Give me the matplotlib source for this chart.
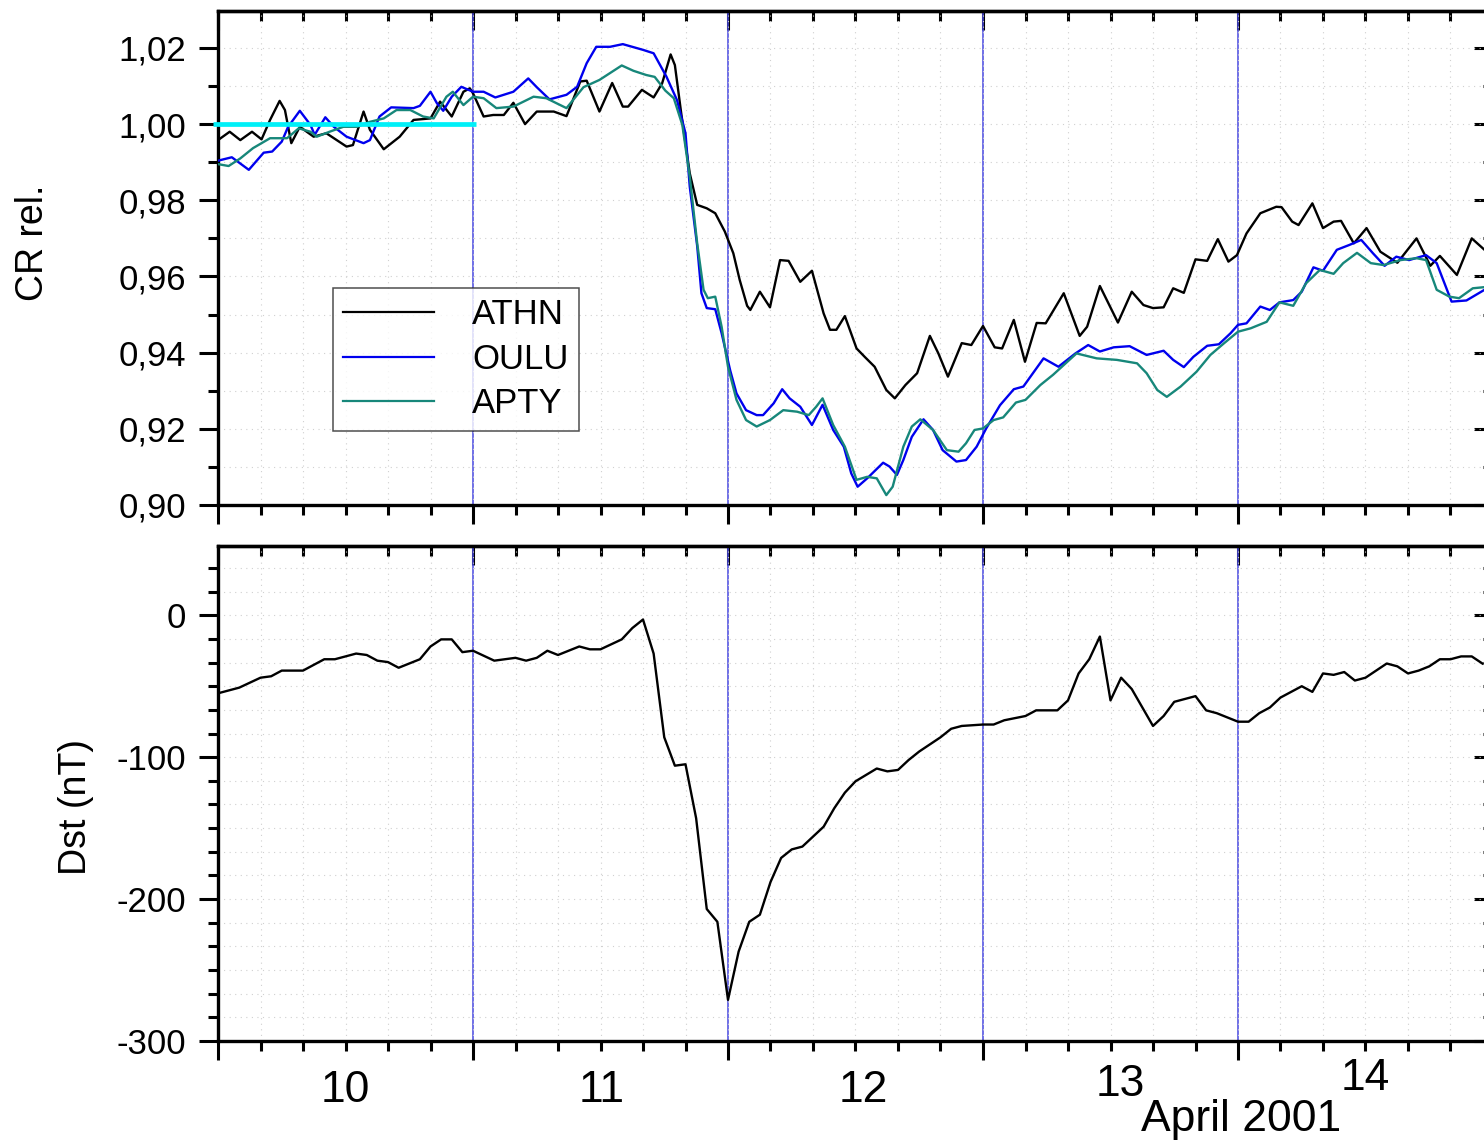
#!/usr/bin/env python

import numpy as np
import matplotlib
matplotlib.use('Agg')
import matplotlib.pyplot as plt
from matplotlib.ticker import MultipleLocator, FuncFormatter, NullFormatter

plt.rcParams['font.family'] = ['Liberation Sans', 'DejaVu Sans']
plt.rcParams['axes.unicode_minus'] = False

# time axis: hours since 10 April 2001 00:00 UT
athn_t = [0, 1.1, 2.1, 3.2, 4.1, 4.9, 5.8, 6.3, 6.9, 7.7, 9.0, 10.2, 12.1, 12.7, 13.7, 14.3,
          15.6, 17.1, 18.4, 20.0, 20.9, 22.0, 23.1, 23.7, 24.0, 25.0, 25.9, 26.9, 27.8, 28.9,
          30.0, 31.6, 32.8, 34.1, 34.7, 35.9, 37.1, 38.1, 38.6, 39.9, 41.0, 41.8, 42.6, 43.0,
          43.6, 44.4, 45.1, 46.0, 46.8, 47.7, 48.5, 49.1, 49.8, 50.1, 51.0, 51.95, 52.9, 53.7,
          54.8, 55.9, 57.0, 57.6, 58.2, 59.0, 60.1, 60.9, 61.8, 62.9, 63.7, 64.7, 65.8, 67.0,
          67.8, 68.7, 70.0, 70.9, 72.0, 73.1, 73.8, 74.9, 75.95, 77.05, 77.9, 79.6, 81.1, 81.8,
          83.0, 84.7, 86.0, 87.1, 88.0, 89.0, 89.9, 90.9, 92.0, 93.1, 94.1, 95.1, 95.9, 96.8,
          98.1, 99.6, 100.1, 101.1, 101.7, 103.0, 104.0, 105.0, 105.7, 106.9, 108.1, 109.4,
          111.0, 112.8, 114.1, 115.0, 116.6, 118.0, 119.2]
athn_v = [0.9958, 0.998, 0.9958, 0.998, 0.996, 1.0011, 1.0061, 1.0037, 0.995, 0.9993, 0.9967,
          0.9976, 0.9941, 0.9945, 1.0033, 0.9985, 0.9934, 0.9967, 1.0011, 1.0015, 1.0059, 1.002,
          1.0085, 1.0094, 1.0081, 1.002, 1.0024, 1.0024, 1.0056, 1.000, 1.0033, 1.0033, 1.0021,
          1.0112, 1.0114, 1.0033, 1.0108, 1.0046, 1.0046, 1.009, 1.0070, 1.0107, 1.0183, 1.0155,
          1.0028, 0.9871, 0.9788, 0.9779, 0.9766, 0.9718, 0.9661, 0.9591, 0.9523, 0.9512, 0.956,
          0.9519, 0.9643, 0.9641, 0.9586, 0.9615, 0.9503, 0.946, 0.946, 0.9496, 0.9411, 0.9388,
          0.9363, 0.9302, 0.928, 0.9315, 0.9346, 0.9444, 0.9398, 0.9337, 0.9425, 0.942, 0.947,
          0.9414, 0.9411, 0.9486, 0.9376, 0.9478, 0.9477, 0.9556, 0.9444, 0.9468, 0.9575, 0.9479,
          0.956, 0.9525, 0.9517, 0.9519, 0.9569, 0.9557, 0.9645, 0.9641, 0.9698, 0.9639, 0.9656,
          0.9713, 0.9766, 0.9783, 0.9782, 0.9744, 0.9735, 0.9792, 0.9727, 0.9744, 0.9746, 0.9687,
          0.9727, 0.9665, 0.9636, 0.970, 0.9628, 0.9654, 0.9604, 0.970, 0.967]

oulu_t = [0, 1.3, 2.9, 4.3, 5.1, 6.0, 6.6, 7.7, 8.7, 9.1, 10.1, 10.9, 12.1, 13.7, 14.3, 15.2,
          16.3, 18.4, 19.0, 20.0, 20.6, 21.2, 22.0, 22.9, 24.0, 25.0, 26.1, 27.8, 29.2, 30.0,
          31.2, 32.8, 33.8, 34.7, 35.6, 36.9, 38.1, 40.0, 41.0, 42.2, 43.2, 44.0, 44.4, 45.1,
          45.5, 46.0, 46.8, 47.4, 48.2, 48.8, 49.7, 50.7, 51.3, 52.3, 53.1, 53.8, 54.8, 55.9,
          56.9, 57.9, 58.9, 59.6, 60.2, 61.1, 62.6, 63.2, 63.9, 64.5, 65.3, 66.4, 67.3, 68.2,
          69.5, 70.4, 71.4, 72.3, 73.6, 74.9, 75.8, 77.7, 79.1, 80.7, 81.9, 83.0, 84.3, 85.8,
          87.4, 89.0, 89.9, 90.9, 91.8, 93.1, 94.2, 95.3, 96.0, 96.8, 98.1, 99.0, 99.9, 101.2,
          102.0, 103.1, 104.0, 105.3, 106.5, 107.6, 108.7, 109.8, 110.9, 112.1, 113.7, 114.7,
          116.1, 117.5, 119.2]
oulu_v = [0.9904, 0.9913, 0.988, 0.9925, 0.9928, 0.9954, 0.9993, 1.0035, 0.9998, 0.9972, 1.0018,
          0.9993, 0.9967, 0.995, 0.9958, 1.002, 1.0044, 1.0042, 1.0048, 1.0085, 1.0055, 1.0035,
          1.0072, 1.0098, 1.0085, 1.0085, 1.007, 1.0085, 1.012, 1.0097, 1.0065, 1.0077, 1.0098,
          1.016, 1.0203, 1.0203, 1.021, 1.0195, 1.0186, 1.0125, 1.0063, 0.9976, 0.9836, 0.968,
          0.9556, 0.9517, 0.9514, 0.9451, 0.9354, 0.9293, 0.9249, 0.9236, 0.9236, 0.9267, 0.9304,
          0.928, 0.9258, 0.921, 0.9263, 0.9197, 0.9153, 0.9083, 0.9048, 0.907, 0.9111, 0.9101,
          0.9079, 0.9118, 0.9179, 0.9225, 0.9197, 0.9144, 0.9114, 0.9118, 0.9153, 0.9201, 0.9262,
          0.9304, 0.9311, 0.9385, 0.9363, 0.9398, 0.942, 0.9403, 0.9414, 0.9417, 0.9394, 0.9405,
          0.9381, 0.9362, 0.9389, 0.9418, 0.9422, 0.9451, 0.9473, 0.9477, 0.9521, 0.9512, 0.9532,
          0.9538, 0.956, 0.9624, 0.9615, 0.967, 0.9683, 0.9696, 0.9661, 0.9628, 0.9652, 0.9643,
          0.9656, 0.9635, 0.9534, 0.9537, 0.9565]

apty_t = [0, 1.0, 2.1, 3.3, 4.9, 6.5, 7.6, 8.7, 9.3, 10.5, 11.8, 13.1, 14.3, 15.6, 16.8, 18.1,
          19.3, 20.3, 21.5, 22.1, 23.1, 24.0, 25.0, 26.2, 27.8, 29.7, 30.9, 32.8, 34.4, 35.9,
          38.0, 39.1, 40.3, 41.1, 42.1, 42.9, 43.7, 44.4, 45.1, 45.7, 46.1, 46.8, 47.4, 48.0,
          48.8, 49.7, 50.7, 51.95, 53.2, 54.5, 55.6, 56.3, 56.9, 57.9, 59.0, 60.1, 61.1, 62.0,
          62.9, 63.5, 64.5, 65.3, 66.1, 67.3, 68.6, 69.7, 70.4, 71.2, 72.0, 73.0, 73.9, 75.1,
          76.0, 77.4, 78.6, 80.8, 82.7, 84.6, 86.5, 87.4, 88.4, 89.3, 90.6, 92.1, 93.4, 94.7,
          96.0, 97.2, 98.7, 99.9, 101.2, 102.4, 103.7, 105.0, 105.9, 107.2, 108.5, 109.7, 111.3,
          112.8, 113.7, 114.7, 115.9, 116.8, 118.1, 119.2]
apty_v = [0.9895, 0.989, 0.991, 0.9937, 0.9963, 0.9963, 0.9989, 0.998, 0.9967, 0.998, 0.9993,
          0.9993, 1.0006, 1.0015, 1.0037, 1.0037, 1.002, 1.0015, 1.0072, 1.0085, 1.005, 1.0072,
          1.0068, 1.0042, 1.0046, 1.0072, 1.0068, 1.0042, 1.0097, 1.0116, 1.0154, 1.014, 1.0129,
          1.0124, 1.0088, 1.0068, 0.9998, 0.9862, 0.9687, 0.9565, 0.9543, 0.9547, 0.9468, 0.9363,
          0.9276, 0.9223, 0.9206, 0.9223, 0.9249, 0.9245, 0.9236, 0.9258, 0.928, 0.921, 0.9153,
          0.9066, 0.9074, 0.907, 0.9026, 0.9048, 0.9153, 0.9206, 0.9225, 0.9197, 0.9144, 0.914,
          0.9162, 0.9197, 0.9201, 0.9223, 0.923, 0.9269, 0.9276, 0.9315, 0.9342, 0.9398, 0.9385,
          0.9381, 0.9372, 0.9346, 0.9302, 0.9284, 0.9311, 0.935, 0.9394, 0.9425, 0.9455, 0.9464,
          0.9481, 0.9532, 0.9523, 0.9582, 0.9617, 0.9607, 0.9635, 0.9662, 0.9635, 0.963, 0.9643,
          0.9648, 0.9643, 0.9565, 0.9547, 0.9543, 0.9569, 0.9572]

# reference level (quiet period) drawn in cyan
base_t = [-0.5, 24.3]
base_v = [1.0, 1.0]

dst_t = [0, 2, 4, 5, 6, 8, 10, 11, 13, 14, 15, 16, 17, 19, 20, 21, 22, 23, 24, 26, 28, 29, 30,
         31, 32, 34, 35, 36, 38, 39, 40, 41, 42, 43, 44, 45, 46, 47, 48, 49, 50, 51, 52, 53, 54,
         55, 57, 58, 59, 60, 62, 63, 64, 65, 66, 67, 68, 69, 70, 72, 73, 74, 76, 77, 79, 80, 81,
         82, 83, 84, 85, 86, 88, 89, 90, 91, 92, 93, 94, 96, 97, 98, 99, 100, 101, 102, 103, 104,
         105, 106, 107, 108, 109, 110, 111, 112, 113, 114, 115, 116, 117, 118, 119]
dst_v = [-55, -51, -44, -43, -39, -39, -31, -31, -27, -28, -32, -33, -37, -31, -22, -17, -17,
         -26, -25, -32, -30, -32, -30, -25, -28, -22, -24, -24, -17, -9, -3, -27, -86, -106, -105,
         -143, -207, -216, -271, -237, -216, -211, -188, -171, -165, -163, -149, -136, -125, -117,
         -108, -110, -109, -102, -96, -91, -86, -80, -78, -77, -77, -74, -71, -67, -67, -60, -41,
         -31, -15, -60, -44, -52, -78, -71, -61, -59, -57, -67, -69, -75, -75, -69, -65, -58, -54,
         -50, -54, -41, -42, -40, -46, -44, -39, -34, -36, -41, -39, -36, -31, -31, -29, -29, -34]

day_edges = [24, 48, 72, 96]
day_mid = [12, 36, 60, 84, 108]
day_labels = ['10', '11', '12', '13', '14']
# label offsets in pixels (dx, dy below the axis), as in the original
label_dx = [0, 1, 8, 10, 0]
label_dy = [49, 49, 49, 43, 38]

W, H = 1484, 1147
fig = plt.figure(figsize=(W / 100, H / 100), dpi=100)
ax1 = fig.add_axes([218 / W, 1 - 505 / H, 1275 / W, 494 / H])
ax2 = fig.add_axes([218 / W, 1 - 1041 / H, 1275 / W, 495 / H])

line_col = '#4848e0'
teal = '#17877a'


def style_axis(ax, ymajor, yminor):
    ax.set_xlim(0, 120)
    ax.xaxis.set_major_locator(MultipleLocator(24))
    ax.xaxis.set_minor_locator(MultipleLocator(4))
    ax.yaxis.set_major_locator(MultipleLocator(ymajor))
    ax.yaxis.set_minor_locator(MultipleLocator(yminor))
    ax.xaxis.set_major_formatter(NullFormatter())
    for s in ax.spines.values():
        s.set_linewidth(2.4)
    ax.tick_params(axis='x', which='major', direction='out', length=14, width=2.2)
    ax.tick_params(axis='x', which='minor', direction='out', length=7.5, width=2.2)
    ax.tick_params(axis='y', which='major', direction='out', length=14, width=2.2,
                   labelsize=25, pad=9)
    ax.tick_params(axis='y', which='minor', direction='out', length=7.5, width=2.2)
    ax.grid(which='both', ls=(0, (1, 4)), color='#d0d0d0', lw=0.8)

    top = ax.secondary_xaxis('top')
    top.xaxis.set_major_locator(MultipleLocator(24))
    top.xaxis.set_minor_locator(MultipleLocator(4))
    top.xaxis.set_major_formatter(NullFormatter())
    top.spines['top'].set_linewidth(2.4)
    top.tick_params(which='major', direction='in', length=14, width=2.2)
    top.tick_params(which='minor', direction='in', length=7.5, width=2.2)

    right = ax.secondary_yaxis('right')
    right.yaxis.set_major_locator(MultipleLocator(ymajor))
    right.yaxis.set_minor_locator(MultipleLocator(yminor))
    right.yaxis.set_major_formatter(NullFormatter())
    right.spines['right'].set_linewidth(2.4)
    right.tick_params(which='major', direction='in', length=14, width=2.2)
    right.tick_params(which='minor', direction='in', length=7.5, width=2.2)

    for d in day_edges:
        ax.axvline(d, color=line_col, lw=1.1, zorder=1)


# --- cosmic ray panel
style_axis(ax1, 0.02, 0.01)
ax1.set_ylim(0.90, 1.0297)
ax1.yaxis.set_major_formatter(FuncFormatter(lambda v, p: '{:.2f}'.format(v).replace('.', ',')))
ax1.plot(athn_t, athn_v, color='black', lw=1.7, label='ATHN', zorder=3)
ax1.plot(oulu_t, oulu_v, color='#0000ee', lw=1.7, label='OULU', zorder=3)
ax1.plot(apty_t, apty_v, color=teal, lw=1.7, label='APTY', zorder=3)
ax1.plot(base_t, base_v, color='#00f0f8', lw=3.4, clip_on=False, solid_capstyle='butt', zorder=4)

leg = ax1.legend(loc='upper left', bbox_to_anchor=((333 - 218) / 1275, (505 - 288) / 494),
                 fontsize=25, frameon=True, fancybox=False, handlelength=2.6,
                 handletextpad=1.1, labelspacing=0.33, borderpad=0.3, borderaxespad=0)
leg.get_frame().set_edgecolor('#222222')
leg.get_frame().set_linewidth(1.1)
for h in leg.get_lines():
    h.set_linewidth(1.6)

fig.text(33 / W, 1 - 243 / H, 'CR rel.', rotation=90, ha='center', va='center', fontsize=27)

# --- Dst panel
style_axis(ax2, 100, 100 / 6)
ax2.set_ylim(-300, 48.8)
ax2.yaxis.set_major_formatter(FuncFormatter(lambda v, p: '{:d}'.format(int(round(v)))))
ax2.plot(dst_t, dst_v, color='black', lw=1.7, zorder=3)

fig.text(76 / W, 1 - 807 / H, 'Dst (nT)', rotation=90, ha='center', va='center', fontsize=27)

for h, lab, dx, dy in zip(day_mid, day_labels, label_dx, label_dy):
    ax2.annotate(lab, xy=(h, 0), xycoords=('data', 'axes fraction'),
                 xytext=(dx * 0.72, -dy * 0.72), textcoords='offset points',
                 ha='center', va='center', fontsize=32, annotation_clip=False)

fig.text(1241 / W, 1 - 1120 / H, 'April 2001', ha='center', va='center', fontsize=32)

fig.savefig('out.png', dpi=100)
